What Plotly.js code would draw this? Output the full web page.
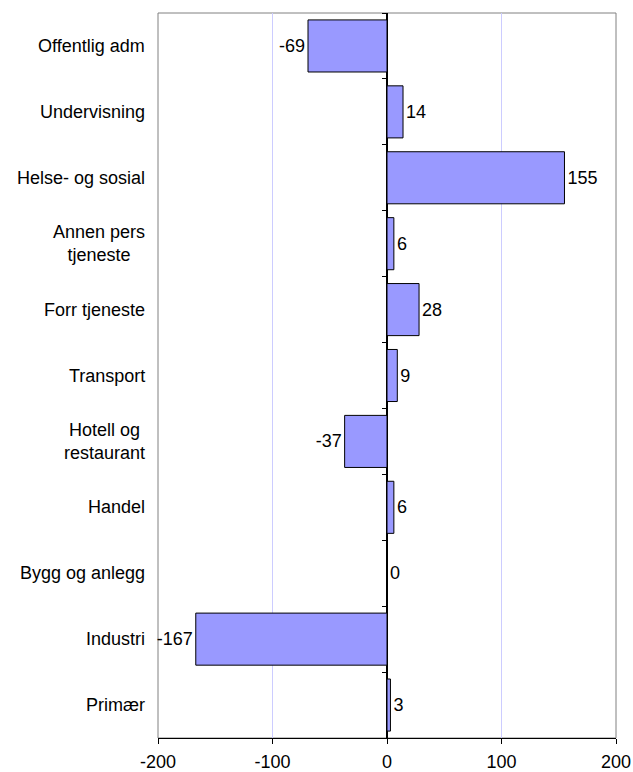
<!DOCTYPE html>
<html><head><meta charset="utf-8">
<script src="https://cdn.plot.ly/plotly-3.0.1.min.js"></script>
<style>html,body{margin:0;padding:0;background:#fff;}#chart{width:633px;height:772px;}</style>
</head><body><div id="chart"></div>
<script>
const categories = ["Offentlig adm","Undervisning","Helse- og sosial","Annen pers<br>tjeneste","Forr tjeneste","Transport","Hotell og<br>restaurant","Handel","Bygg og anlegg","Industri","Primær"];
const values = [-69,14,155,6,28,9,-37,6,0,-167,3];
const xTicks = [-200,-100,0,100,200];

const FONT = 'Liberation Sans, Arial, sans-serif';
const FS = 18;

const bar = {
  type:'bar', orientation:'h', y:categories, x:values,
  text:values.map(String), textposition:'outside', cliponaxis:false,
  textfont:{family:FONT, size:FS, color:'#000'},
  marker:{color:'#9999ff', line:{color:'#000', width:1}},
  hoverinfo:'none'
};
const tickTrace = {type:'bar', orientation:'h', y:categories, x:values.map(()=>0), yaxis:'y2', hoverinfo:'none', showlegend:false, marker:{color:'rgba(0,0,0,0)'}};

const labelAnnotations = categories.map(c => ({
  xref:'paper', yref:'y', x:0, y:c, xanchor:'right', yanchor:'middle', xshift:-11,
  text:c, showarrow:false, align:'center', font:{family:FONT, size:FS, color:'#000'}
}));

const layout = {
  width:633, height:772,
  margin:{l:158, r:17, t:13, b:34},
  paper_bgcolor:'#fff', plot_bgcolor:'#fff',
  showlegend:false, bargap:0.21,
  font:{family:FONT, size:FS, color:'#000'},
  xaxis:{range:[-200,200], tickvals:xTicks, ticktext:xTicks.map(String), ticks:'outside', ticklen:5, tickcolor:'#000',
    ticklabelstandoff:2,
    showgrid:true, gridcolor:'#ccccff', gridwidth:1, zeroline:true, zerolinecolor:'#000', zerolinewidth:1.5,
    showline:true, linecolor:'#000', linewidth:1, tickfont:{size:FS}},
  yaxis:{type:'category', autorange:'reversed', ticks:'', showticklabels:false, showline:false, showgrid:false, zeroline:false},
  yaxis2:{type:'category', overlaying:'y', matches:'y', anchor:'free', position:0.5, side:'left',
    showticklabels:false, ticks:'outside', tickson:'boundaries', ticklen:5, tickcolor:'#000', showline:false, showgrid:false, zeroline:false},
  annotations:labelAnnotations,
  shapes:[{type:'rect', xref:'paper', yref:'paper', x0:0, x1:1, y0:0, y1:1, line:{color:'#808080', width:1}, layer:'below'}]
};
Plotly.newPlot('chart',[bar,tickTrace],layout,{staticPlot:true});
</script></body></html>
